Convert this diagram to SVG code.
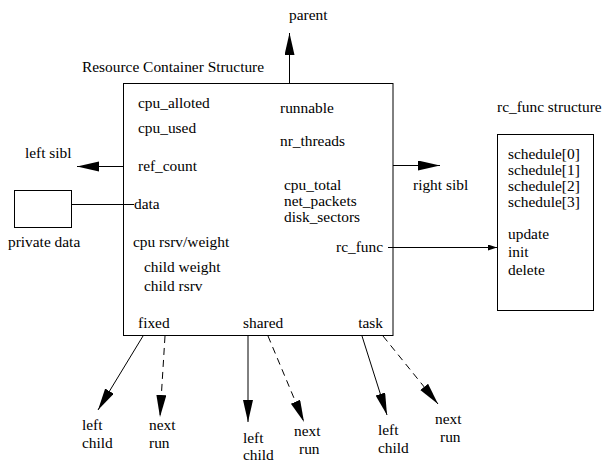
<svg xmlns="http://www.w3.org/2000/svg" width="614" height="462" viewBox="0 0 614 462">
<style>
text{font-family:"Liberation Serif","Times New Roman",serif;font-size:15.4px;fill:#000}
.box{fill:#fff;stroke:#000;stroke-width:1}
.ln{fill:none;stroke:#000;stroke-width:1}
.dash{stroke-dasharray:7 5}
</style>
<defs>
<marker id="big" markerUnits="userSpaceOnUse" markerWidth="23" markerHeight="11" refX="22" refY="5" orient="auto">
<path d="M0,0 L22,5 L0,10 z" fill="#000"/>
</marker>
<marker id="small" markerUnits="userSpaceOnUse" markerWidth="10" markerHeight="6" refX="9" refY="3" orient="auto">
<path d="M0,0 L9,3 L0,6 z" fill="#000"/>
</marker>
</defs>
<rect width="614" height="462" fill="#fff"/>
<g id="container">
<rect class="box" x="123.5" y="83.5" width="269.5" height="252"/>
<text x="82" y="72">Resource Container Structure</text>
<text x="138" y="108">cpu_alloted</text>
<text x="138" y="133">cpu_used</text>
<text x="138" y="171">ref_count</text>
<text x="134" y="209">data</text>
<text x="133" y="247">cpu rsrv/weight</text>
<text x="144" y="272">child weight</text>
<text x="144" y="291">child rsrv</text>
<text x="280" y="113">runnable</text>
<text x="280" y="146">nr_threads</text>
<text x="284" y="190">cpu_total</text>
<text x="284" y="206">net_packets</text>
<text x="284" y="222">disk_sectors</text>
<text x="383" y="252" text-anchor="end">rc_func</text>
<text x="138" y="328">fixed</text>
<text x="243" y="328">shared</text>
<text x="383" y="328" text-anchor="end">task</text>
</g>
<g id="private">
<rect class="box" x="14.5" y="190.5" width="57" height="37"/>
<text x="8" y="247">private data</text>
</g>
<g id="rcfunc">
<rect class="box" x="497.5" y="134.5" width="96" height="176"/>
<text x="497" y="112">rc_func structure</text>
<text x="508" y="159">schedule[0]</text>
<text x="508" y="175">schedule[1]</text>
<text x="508" y="191">schedule[2]</text>
<text x="508" y="207">schedule[3]</text>
<text x="508" y="239">update</text>
<text x="508" y="257">init</text>
<text x="508" y="275">delete</text>
</g>
<g id="labels">
<text x="289" y="20">parent</text>
<text x="25" y="158">left sibl</text>
<text x="413" y="190">right sibl</text>
<text x="82" y="430">left</text>
<text x="82" y="448">child</text>
<text x="149" y="430">next</text>
<text x="149" y="448">run</text>
<text x="243" y="443">left</text>
<text x="243" y="460">child</text>
<text x="294" y="436">next</text>
<text x="299" y="454">run</text>
<text x="378" y="435">left</text>
<text x="378" y="453">child</text>
<text x="435" y="424">next</text>
<text x="440" y="442">run</text>
</g>
<g id="connectors">
<line class="ln" x1="289.5" y1="83" x2="289.5" y2="33" marker-end="url(#big)"/>
<line class="ln" x1="123" y1="166.5" x2="77" y2="166.5" marker-end="url(#big)"/>
<line class="ln" x1="393" y1="165.5" x2="440" y2="165.5" marker-end="url(#big)"/>
<line class="ln" x1="71" y1="204.5" x2="134" y2="204.5"/>
<line class="ln" x1="388" y1="247.5" x2="497" y2="247.5" marker-end="url(#small)"/>
<line class="ln" x1="143" y1="336" x2="98" y2="410" marker-end="url(#big)"/>
<line class="ln dash" x1="165" y1="336" x2="160" y2="417" marker-end="url(#big)"/>
<line class="ln" x1="248" y1="336" x2="248" y2="422" marker-end="url(#big)"/>
<line class="ln dash" x1="268" y1="336" x2="304" y2="422" marker-end="url(#big)"/>
<line class="ln" x1="362" y1="336" x2="387" y2="415" marker-end="url(#big)"/>
<line class="ln dash" x1="383" y1="336" x2="438" y2="404" marker-end="url(#big)"/>
</g>
</svg>
